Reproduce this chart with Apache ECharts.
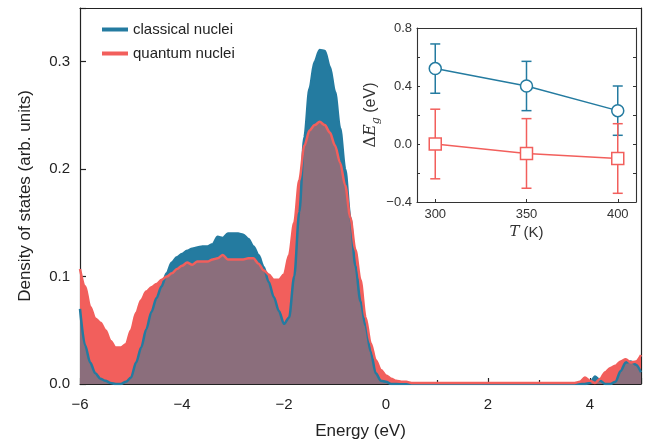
<!DOCTYPE html>
<html><head><meta charset="utf-8">
<script src="https://cdn.jsdelivr.net/npm/echarts@6/dist/echarts.min.js"></script>
<style>html,body{margin:0;padding:0;background:#fff}#c{width:649px;height:444px}</style>
</head><body><div id="c"></div>
<script>
// ---- Main panel data: density of states vs energy ----
const energy = [-6.0,-5.9,-5.8,-5.7,-5.6,-5.5,-5.4,-5.3,-5.2,-5.1,-5.0,-4.9,-4.8,-4.7,-4.6,-4.5,-4.4,-4.3,-4.2,-4.1,
  -4.0,-3.9,-3.8,-3.7,-3.6,-3.5,-3.4,-3.3,-3.2,-3.1,-3.0,-2.9,-2.8,-2.7,-2.6,-2.5,-2.4,-2.3,-2.2,-2.1,
  -2.0,-1.9,-1.8,-1.7,-1.6,-1.5,-1.4,-1.3,-1.2,-1.1,-1.0,-0.9,-0.8,-0.7,-0.6,-0.5,-0.4,-0.3,-0.2,-0.1,
  0.0,0.1,0.2,0.3,0.4,0.5,0.6,0.7,0.8,0.9,1.0,1.1,1.2,1.3,1.4,1.5,1.6,1.7,1.8,1.9,
  2.0,2.1,2.2,2.3,2.4,2.5,2.6,2.7,2.8,2.9,3.0,3.1,3.2,3.3,3.4,3.5,3.6,3.7,3.8,3.9,
  4.0,4.1,4.2,4.3,4.4,4.5,4.6,4.7,4.8,4.9,5.0];
const classicalDOS = [0.070,0.036,0.020,0.010,0.005,0.003,0.001,0.000,0.000,0.002,
  0.006,0.020,0.034,0.051,0.067,0.080,0.091,0.103,0.113,0.118,
  0.121,0.124,0.126,0.127,0.128,0.128,0.130,0.137,0.136,0.140,
  0.140,0.140,0.139,0.135,0.128,0.120,0.109,0.095,0.081,0.068,
  0.056,0.062,0.100,0.160,0.230,0.275,0.300,0.311,0.310,0.295,
  0.272,0.238,0.200,0.155,0.110,0.077,0.054,0.030,0.010,0.003,
  0.002,0.000,0.000,0.000,0.000,0.000,0.000,0.000,0.000,0.000,
  0.000,0.000,0.000,0.000,0.000,0.000,0.000,0.000,0.000,0.000,
  0.000,0.000,0.000,0.000,0.000,0.000,0.000,0.000,0.000,0.000,
  0.000,0.000,0.000,0.000,0.000,0.000,0.000,0.000,0.000,0.000,
  0.001,0.007,0.003,0.000,0.000,0.002,0.012,0.020,0.021,0.018,0.011];
const quantumDOS = [0.107,0.091,0.072,0.061,0.057,0.050,0.040,0.034,0.034,0.037,
  0.050,0.066,0.078,0.086,0.090,0.093,0.097,0.100,0.103,0.107,
  0.110,0.113,0.111,0.114,0.114,0.114,0.116,0.117,0.120,0.116,
  0.116,0.116,0.116,0.117,0.117,0.112,0.106,0.102,0.097,0.097,
  0.102,0.120,0.150,0.190,0.222,0.236,0.241,0.244,0.241,0.234,
  0.222,0.206,0.185,0.155,0.125,0.097,0.062,0.038,0.022,0.013,
  0.008,0.005,0.003,0.002,0.002,0.001,0.001,0.001,0.001,0.001,
  0.001,0.001,0.001,0.001,0.001,0.001,0.001,0.001,0.001,0.001,
  0.001,0.001,0.001,0.001,0.001,0.001,0.001,0.001,0.001,0.001,
  0.001,0.001,0.001,0.001,0.001,0.001,0.001,0.001,0.002,0.006,
  0.003,0.001,0.005,0.011,0.015,0.017,0.021,0.023,0.020,0.021,0.027];
const seriesNames = ['classical nuclei', 'quantum nuclei'];
const xTicks = [-6, -4, -2, 0, 2, 4];
const yTicks = [0.0, 0.1, 0.2, 0.3];

// ---- Inset data: band gap shift vs temperature ----
const temperature = [300, 350, 400];
const classicalGap = [0.52, 0.40, 0.23];
const classicalGapErr = [0.17, 0.17, 0.17];
const quantumGap = [0.00, -0.065, -0.10];
const quantumGapErr = [0.24, 0.24, 0.24];
const insetXTicks = [300, 350, 400];
const insetYTicks = [-0.4, 0.0, 0.4, 0.8];

const BLUE = '#247BA0', RED = '#F25F5C', MIX = '#8B6E7C', INK = '#222';
const SANS = 'Liberation Sans', SERIF = 'DejaVu Serif';

const pairs = arr => energy.map((e, i) => [e, arr[i]]);
const overlap = energy.map((e, i) => [e, Math.min(classicalDOS[i], quantumDOS[i])]);
const fmtNum = (v, d) => (v < 0 ? '\u2212' : '') + Math.abs(v).toFixed(d);
const near = (v, list) => list.some(t => Math.abs(t - v) < 1e-6);

function areaSeries(data, color, z) {
  return {type: 'line', data, xAxisIndex: 0, yAxisIndex: 0, symbol: 'none', silent: true,
    smooth: 0.3, smoothMonotone: 'x', z,
    lineStyle: {width: 0, opacity: 0}, areaStyle: {color, opacity: 1}};
}
function lineSeries(name, data, color, z) {
  return {type: 'line', name, data, xAxisIndex: 0, yAxisIndex: 0, symbol: 'none', silent: true,
    smooth: 0.3, smoothMonotone: 'x', z, color,
    lineStyle: {width: 2.5, color}};
}
function errSeries(center, err, color) {
  return {type: 'custom', xAxisIndex: 2, yAxisIndex: 2, z: 20, silent: true,
    data: temperature.map((t, i) => [t, center[i] - err[i], center[i] + err[i]]),
    encode: {x: 0, y: [1, 2]},
    renderItem(params, api) {
      const x = api.value(0);
      const lo = api.coord([x, api.value(1)]);
      const hi = api.coord([x, api.value(2)]);
      const w = 5;
      const st = {stroke: color, lineWidth: 1.5};
      return {type: 'group', children: [
        {type: 'line', shape: {x1: hi[0], y1: hi[1], x2: lo[0], y2: lo[1]}, style: st},
        {type: 'line', shape: {x1: hi[0] - w, y1: hi[1], x2: hi[0] + w, y2: hi[1]}, style: st},
        {type: 'line', shape: {x1: lo[0] - w, y1: lo[1], x2: lo[0] + w, y2: lo[1]}, style: st}
      ]};
    }};
}
function markerSeries(center, color, symbol) {
  return {type: 'line', xAxisIndex: 2, yAxisIndex: 2, z: 21, silent: true,
    data: temperature.map((t, i) => [t, center[i]]),
    symbol, symbolSize: 12,
    lineStyle: {color, width: 1.5},
    itemStyle: {color: '#fff', borderColor: color, borderWidth: 1.5}};
}

const frameLine = {show: true, onZero: false, lineStyle: {color: INK, width: 1.2}};
const insetLine = {show: true, onZero: false, lineStyle: {color: '#333', width: 1.1}};

const option = {
  animation: false,
  backgroundColor: '#fff',
  textStyle: {fontFamily: SANS},
  grid: [
    {left: 80, right: 8, top: 8, bottom: 60, containLabel: false, outerBoundsMode: 'none'},
    {left: 417, right: 13, top: 28, bottom: 242, containLabel: false, outerBoundsMode: 'none'}
  ],
  legend: {
    data: seriesNames.map((n, i) => ({name: n, icon: 'rect', itemStyle: {color: i === 0 ? BLUE : RED}})),
    orient: 'vertical', left: 97, top: 17, itemWidth: 26, itemHeight: 4, itemGap: 9,
    textStyle: {fontSize: 15, color: INK, fontFamily: SANS}, selectedMode: false
  },
  xAxis: [
    {type: 'value', gridIndex: 0, min: -6, max: 5, interval: 2,
      axisLine: frameLine,
      axisTick: {show: true, inside: true, length: 6, lineStyle: {color: INK, width: 1.2}},
      minorTick: {show: true, splitNumber: 2, length: 4, lineStyle: {color: INK, width: 1.2}},
      splitLine: {show: false},
      axisLabel: {fontSize: 15, color: INK, margin: 13,
        formatter: v => near(v, xTicks) ? fmtNum(v, 0) : ''},
      name: 'Energy (eV)', nameLocation: 'middle', nameGap: 39,
      nameTextStyle: {fontSize: 17, color: INK}},
    {type: 'value', gridIndex: 0, position: 'top', min: -6, max: 5,
      axisLine: frameLine, axisTick: {show: false}, axisLabel: {show: false}, splitLine: {show: false}},
    {type: 'value', gridIndex: 1, min: 290, max: 410,
      axisLine: insetLine,
      axisTick: {show: true, inside: true, length: 3, customValues: insetXTicks, lineStyle: {color: '#333'}},
      axisLabel: {fontSize: 13, color: '#333', margin: 6, customValues: insetXTicks},
      splitLine: {show: false},
      name: '{t|T} (K)', nameLocation: 'middle', nameGap: 23,
      nameTextStyle: {fontSize: 15, color: '#333',
        rich: {t: {fontFamily: SERIF, fontStyle: 'italic', fontSize: 15, color: '#333'}}}},
    {type: 'value', gridIndex: 1, position: 'top', min: 290, max: 410,
      axisLine: insetLine, axisTick: {show: false}, axisLabel: {show: false}, splitLine: {show: false}}
  ],
  yAxis: [
    {type: 'value', gridIndex: 0, min: 0, max: 0.35, interval: 0.1,
      axisLine: frameLine,
      axisTick: {show: true, inside: true, length: 6, lineStyle: {color: INK, width: 1.2}},
      splitLine: {show: false},
      axisLabel: {fontSize: 15, color: INK, margin: 10,
        formatter: v => near(v, yTicks) ? fmtNum(v, 1) : ''},
      name: 'Density of states (arb. units)', nameLocation: 'middle', nameGap: 46,
      nameTextStyle: {fontSize: 17, color: INK}},
    {type: 'value', gridIndex: 0, position: 'right', min: 0, max: 0.35,
      axisLine: frameLine, axisTick: {show: false}, axisLabel: {show: false}, splitLine: {show: false}},
    {type: 'value', gridIndex: 1, min: -0.4, max: 0.8, interval: 0.2,
      axisLine: insetLine,
      axisTick: {show: true, inside: true, length: 3, lineStyle: {color: '#333'}},
      splitLine: {show: false},
      axisLabel: {fontSize: 13, color: '#333', margin: 5,
        formatter: v => near(v, insetYTicks) ? fmtNum(v, 1) : ''},
      name: '{d|\u0394}{e|E}{g|g} (eV)', nameLocation: 'middle', nameGap: 35,
      nameTextStyle: {fontSize: 16, color: '#333', lineHeight: 22,
        rich: {
          d: {fontFamily: SERIF, fontSize: 16, color: '#333', lineHeight: 22},
          e: {fontFamily: SERIF, fontStyle: 'italic', fontSize: 16, color: '#333', lineHeight: 22},
          g: {fontFamily: SERIF, fontStyle: 'italic', fontSize: 11, color: '#333', lineHeight: 22, verticalAlign: 'bottom'}
        }}},
    {type: 'value', gridIndex: 1, position: 'right', min: -0.4, max: 0.8, interval: 0.2,
      axisLine: insetLine,
      axisTick: {show: true, inside: true, length: 3, lineStyle: {color: '#333'}},
      axisLabel: {show: false}, splitLine: {show: false}}
  ],
  series: [
    areaSeries(pairs(classicalDOS), BLUE, 1),
    areaSeries(pairs(quantumDOS), RED, 2),
    areaSeries(overlap, MIX, 3),
    lineSeries(seriesNames[0], pairs(classicalDOS), BLUE, 4),
    lineSeries(seriesNames[1], pairs(quantumDOS), RED, 5),
    errSeries(classicalGap, classicalGapErr, BLUE),
    errSeries(quantumGap, quantumGapErr, RED),
    markerSeries(classicalGap, BLUE, 'circle'),
    markerSeries(quantumGap, RED, 'rect')
  ]
};
const chart = echarts.init(document.getElementById('c'), null, {renderer: 'canvas'});
chart.setOption(option);
</script></body></html>
